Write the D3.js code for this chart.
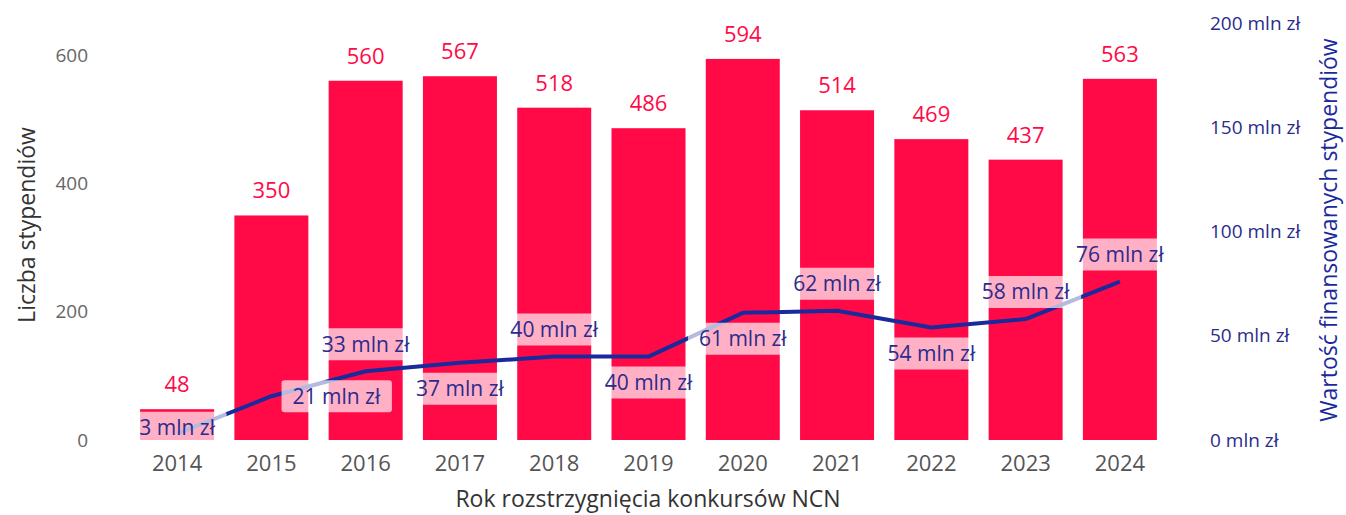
<!DOCTYPE html>
<html>
<head>
<meta charset="utf-8">
<script src="https://cdn.jsdelivr.net/npm/d3@7"></script>
<style>
  body { margin: 0; background: #fff; }
  svg { font-family: "Open Sans", "Noto Sans", sans-serif; }
</style>
</head>
<body>
<svg width="1346" height="515"></svg>
<script>
var years = ["2014", "2015", "2016", "2017", "2018", "2019", "2020", "2021", "2022", "2023", "2024"];
var counts = [48, 350, 560, 567, 518, 486, 594, 514, 469, 437, 563];
var amounts = [3, 21, 33, 37, 40, 40, 61, 62, 54, 58, 76];
var leftTicks = [0, 200, 400, 600];
var rightTicks = [0, 50, 100, 150, 200];
// where the amount label sits relative to the point
var labelSide = ["center", "right", "above", "below", "above", "below", "below", "above", "below", "above", "above"];

var svg = d3.select("svg");
var plotTop = 23, plotBottom = 440;

var xScale = d3.scaleBand().domain(years).range([130, 1167]).paddingInner(0.215).paddingOuter(0.107);
var yLeft = d3.scaleLinear().domain([0, 650]).range([plotBottom, plotTop]);
var yRight = d3.scaleLinear().domain([0, 200]).range([plotBottom, plotTop]);

var red = "#ff0a47", navy = "#1a2a9c";

// bars
svg.append("g").selectAll("rect")
  .data(counts)
  .enter().append("rect")
  .attr("x", (d, i) => xScale(years[i]))
  .attr("y", d => yLeft(d))
  .attr("width", xScale.bandwidth())
  .attr("height", d => plotBottom - yLeft(d))
  .attr("fill", red);

// bar value labels
svg.append("g").selectAll("text")
  .data(counts)
  .enter().append("text")
  .attr("x", (d, i) => xScale(years[i]) + xScale.bandwidth() / 2)
  .attr("y", d => yLeft(d) - 17)
  .attr("text-anchor", "middle")
  .attr("font-size", "22px")
  .attr("fill", red)
  .text(d => d);

// left axis
var gl = svg.append("g").attr("transform", "translate(98,0)")
  .call(d3.axisLeft(yLeft).tickValues(leftTicks).tickSize(0).tickPadding(10));
gl.attr("font-family", null).attr("font-size", null);
gl.select(".domain").remove();
gl.selectAll("text").attr("font-size", "19px").attr("fill", "#666");

svg.append("text")
  .attr("transform", "translate(35,225) rotate(-90)")
  .attr("text-anchor", "middle")
  .attr("font-size", "23px")
  .attr("fill", "#333")
  .text("Liczba stypendiów");

// right axis
var gr = svg.append("g").attr("transform", "translate(1200,0)")
  .call(d3.axisRight(yRight).tickValues(rightTicks).tickSize(0).tickPadding(10)
    .tickFormat(d => d + " mln zł"));
gr.attr("font-family", null).attr("font-size", null);
gr.select(".domain").remove();
gr.selectAll("text").attr("font-size", "19px").attr("fill", "#2b2b8c");

svg.append("text")
  .attr("transform", "translate(1337,230) rotate(-90)")
  .attr("text-anchor", "middle")
  .attr("font-size", "23px")
  .attr("fill", navy)
  .text("Wartość finansowanych stypendiów");

// x axis
var gx = svg.append("g").attr("transform", "translate(0," + plotBottom + ")")
  .call(d3.axisBottom(xScale).tickSize(0).tickPadding(15));
gx.attr("font-family", null).attr("font-size", null);
gx.select(".domain").remove();
gx.selectAll("text").attr("font-size", "22px").attr("fill", "#555");

svg.append("text")
  .attr("x", 648)
  .attr("y", 507)
  .attr("text-anchor", "middle")
  .attr("font-size", "23px")
  .attr("fill", "#333")
  .text("Rok rozstrzygnięcia konkursów NCN");

// line
var line = d3.line()
  .x((d, i) => xScale(years[i]) + xScale.bandwidth() / 2)
  .y(d => yRight(d));

svg.append("path")
  .datum(amounts)
  .attr("d", line)
  .attr("fill", "none")
  .attr("stroke", navy)
  .attr("stroke-width", 4)
  .attr("stroke-linejoin", "round");

// line value labels with translucent boxes
var lbl = svg.append("g").selectAll("g")
  .data(amounts)
  .enter().append("g")
  .attr("transform", function (d, i) {
    var cx = xScale(years[i]) + xScale.bandwidth() / 2, cy = yRight(d);
    var s = labelSide[i];
    if (s == "above") cy -= 27;
    else if (s == "below") cy += 26;
    else if (s == "right") cx += 65;
    else cy -= 6;
    return "translate(" + cx + "," + cy + ")";
  });

lbl.append("text")
  .attr("text-anchor", "middle")
  .attr("dy", "0.35em")
  .attr("font-size", "21px")
  .attr("fill", "#2b2b8c")
  .text(d => d + " mln zł");

lbl.each(function () {
  var g = d3.select(this);
  var b = g.select("text").node().getBBox();
  g.insert("rect", "text")
    .attr("x", b.x - 11)
    .attr("y", -16)
    .attr("width", b.width + 22)
    .attr("height", 32)
    .attr("rx", 3)
    .attr("fill", "#fff")
    .attr("opacity", 0.68);
});
</script>
</body>
</html>
